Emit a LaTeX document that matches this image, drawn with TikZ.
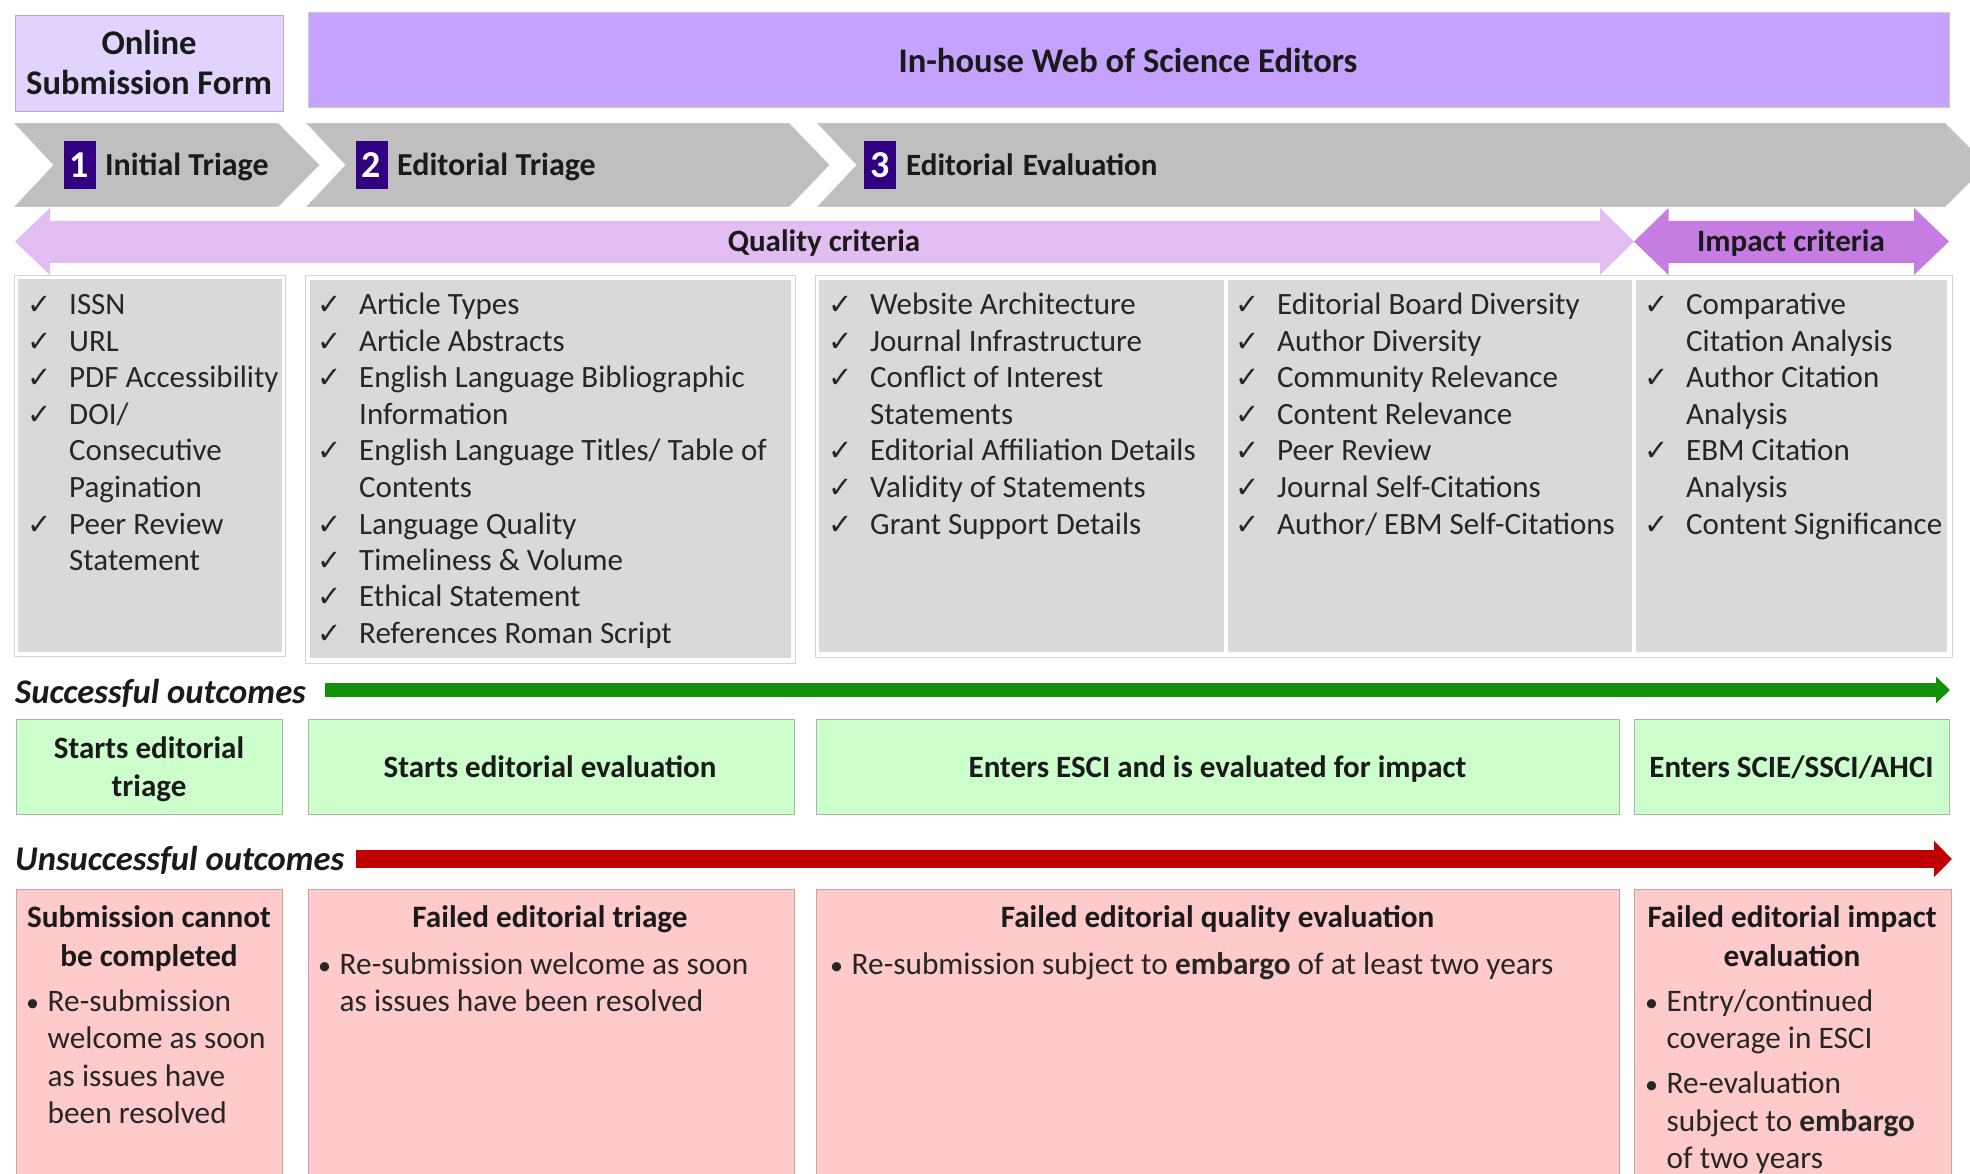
\documentclass[tikz,border=0pt]{standalone}
\usepackage{fontspec}
\usetikzlibrary{arrows.meta}
\setmainfont{Carlito}
\newfontfamily\ckfont{DejaVu Sans}
\definecolor{txt}{HTML}{1A1A1A}
\definecolor{listtxt}{HTML}{262626}
\definecolor{onlinefill}{HTML}{E1D3FE}
\definecolor{housefill}{HTML}{C4A2FD}
\definecolor{chevgray}{HTML}{BFBFBF}
\definecolor{badge}{RGB}{48,0,128}
\definecolor{qualfill}{HTML}{E1BDF2}
\definecolor{impfill}{HTML}{C57CE3}
\definecolor{panelgray}{HTML}{D9D9D9}
\definecolor{panelline}{HTML}{D4D4D4}
\definecolor{okfill}{HTML}{CCFFCC}
\definecolor{okline}{HTML}{A8B8A8}
\definecolor{badfill}{HTML}{FFCACA}
\definecolor{badline}{HTML}{BCA8A8}
\definecolor{greenarrow}{RGB}{20,145,10}
\definecolor{redarrow}{HTML}{C00000}
\newcommand{\ck}{{\ckfont\fontsize{29}{29}\selectfont ✓}}
\newcommand{\bul}{{\fontsize{26}{26}\selectfont\textbullet}}
\newcommand{\Lines}[2][c]{\begin{tabular}[t]{@{}#1@{}}#2\end{tabular}}
\newcommand{\Checks}[1]{\begin{tabular}[t]{@{}p{41.5pt}@{}l@{}}#1\end{tabular}}
\newcommand{\Bullets}[1]{\begin{tabular}[t]{@{}p{21.5pt}@{}l@{}}#1\end{tabular}}
\begin{document}
\begin{tikzpicture}[x=1pt,y=-1pt,
  box/.style={draw, line width=1pt, inner sep=0pt, anchor=north west},
  headtext/.style={font=\fontsize{34.6}{40}\selectfont\bfseries, text=txt, inner sep=0pt, anchor=base},
  chevtext/.style={font=\fontsize{32}{38}\selectfont\bfseries, text=txt, inner sep=0pt, anchor=base west},
  badgebox/.style={fill=badge, text=white, font=\fontsize{38}{40}\selectfont\bfseries, minimum width=32pt, minimum height=48pt, inner sep=0pt},
  crittext/.style={font=\fontsize{31}{36}\selectfont\bfseries, text=txt, inner sep=0pt, anchor=base},
  listtext/.style={font=\fontsize{31}{36.5}\selectfont, text=listtxt, inner sep=0pt, anchor=base west},
  outtext/.style={font=\fontsize{31}{38}\selectfont\bfseries, text=txt, inner sep=0pt, anchor=base},
  failtitle/.style={font=\fontsize{31.2}{39}\selectfont\bfseries, text=txt, inner sep=0pt, anchor=base},
  failtext/.style={font=\fontsize{31.3}{37.5}\selectfont, text=listtxt, inner sep=0pt, anchor=base west},
  rowlabel/.style={font=\fontsize{34.6}{40}\selectfont\bfseries\itshape, text=txt, inner sep=0pt, anchor=base west},
  okbox/.style={box, draw=okline, fill=okfill},
  badbox/.style={box, draw=badline, fill=badfill},
  outerpanel/.style={box, draw=panelline, fill=white},
  innerpanel/.style={inner sep=0pt, anchor=north west, fill=panelgray}
]
\useasboundingbox (0,0) rectangle (1970,1174);
\clip (0,0) rectangle (1970,1174);

% ---------- header boxes ----------
\node[box, draw=black!30, fill=onlinefill, minimum width=268pt, minimum height=96pt] (online) at (15,15) {};
\node[headtext] (onlinet) at (149,55) {\Lines{Online\\Submission Form}};
\node[box, draw=black!20, fill=housefill, minimum width=1641pt, minimum height=95pt] (house) at (308,12) {};
\node[headtext] (houset) at (1128,73) {In-house Web of Science Editors};

% ---------- chevrons ----------
\path[fill=chevgray, draw=black!22, line width=0.8pt] (15,123.5) -- (278,123.5) -- (319,165) -- (278,206.5) -- (15,206.5) -- (54,165) -- cycle;
\path[fill=chevgray, draw=black!22, line width=0.8pt] (307,123.5) -- (789,123.5) -- (829,165) -- (789,206.5) -- (307,206.5) -- (346,165) -- cycle;
\path[fill=chevgray, draw=black!22, line width=0.8pt] (818,123.5) -- (1945,123.5) -- (1986.5,165) -- (1945,206.5) -- (818,206.5) -- (857,165) -- cycle;
\node[badgebox] (b1) at (79.5,165.5) {1};
\node[chevtext] (c1) at (105,176) {Initial Triage};
\node[badgebox] (b2) at (371.5,165.5) {2};
\node[chevtext] (c2) at (397,176) {Editorial Triage};
\node[badgebox] (b3) at (880,165.5) {3};
\node[chevtext, font=\fontsize{31}{38}\selectfont\bfseries] (c3) at (906,176) {Editorial\hspace{9pt}Evaluation};

% ---------- criteria arrows ----------
\path[fill=qualfill] (15,241.5) -- (50,208) -- (50,221) -- (1600,221) -- (1600,208) -- (1634,241.5) -- (1600,275) -- (1600,263) -- (50,263) -- (50,275) -- cycle;
\path[fill=impfill] (1634,241.5) -- (1668.5,208) -- (1668.5,221) -- (1914,221) -- (1914,208) -- (1949,241.5) -- (1914,275) -- (1914,263) -- (1668.5,263) -- (1668.5,275) -- cycle;
\node[crittext] (qual) at (824,252) {Quality criteria};
\node[crittext] (imp) at (1791,252) {Impact criteria};

% ---------- criteria panels ----------
\node[outerpanel, minimum width=271pt, minimum height=381pt] (pA) at (14,275) {};
\node[innerpanel, minimum width=264pt, minimum height=373pt] (pAi) at (17.5,279) {};
\node[outerpanel, minimum width=490pt, minimum height=388pt] (pB) at (305,275) {};
\node[innerpanel, minimum width=481pt, minimum height=378pt] (pBi) at (309.5,279.5) {};
\node[outerpanel, minimum width=1137pt, minimum height=382pt] (pC) at (815,275) {};
\node[innerpanel, minimum width=405pt, minimum height=372pt] (pC1) at (819,280) {};
\node[innerpanel, minimum width=404pt, minimum height=372pt] (pC2) at (1228,280) {};
\node[innerpanel, minimum width=311pt, minimum height=372pt] (pC3) at (1636,280) {};

\node[listtext] (lA) at (27.5,315) {\Checks{%
\ck & ISSN\\
\ck & URL\\
\ck & PDF Accessibility\\
\ck & DOI/\\
 & Consecutive\\
 & Pagination\\
\ck & Peer Review\\
 & Statement}};
\node[listtext] (lB) at (317.5,315) {\Checks{%
\ck & Article Types\\
\ck & Article Abstracts\\
\ck & English Language Bibliographic\\
 & Information\\
\ck & English Language Titles/ Table of\\
 & Contents\\
\ck & Language Quality\\
\ck & Timeliness \& Volume\\
\ck & Ethical Statement\\
\ck & References Roman Script}};
\node[listtext] (lC1) at (828.5,315) {\Checks{%
\ck & Website Architecture\\
\ck & Journal Infrastructure\\
\ck & Conflict of Interest\\
 & Statements\\
\ck & Editorial Affiliation Details\\
\ck & Validity of Statements\\
\ck & Grant Support Details}};
\node[listtext] (lC2) at (1235.5,315) {\Checks{%
\ck & Editorial Board Diversity\\
\ck & Author Diversity\\
\ck & Community Relevance\\
\ck & Content Relevance\\
\ck & Peer Review\\
\ck & Journal Self-Citations\\
\ck & Author/ EBM Self-Citations}};
\node[listtext] (lC3) at (1644.5,315) {\Checks{%
\ck & Comparative\\
 & Citation Analysis\\
\ck & Author Citation\\
 & Analysis\\
\ck & EBM Citation\\
 & Analysis\\
\ck & Content Significance}};

% ---------- successful outcomes ----------
\node[rowlabel] (succ) at (15,703) {Successful outcomes};
\coordinate (gs) at (325,690);
\coordinate (ge) at (1950,690);
\draw[greenarrow, line width=14pt, -{Triangle[length=14pt,width=26pt]}] (gs) -- (ge);

\node[okbox, minimum width=266pt, minimum height=95pt] (ok1) at (16,719) {};
\node[okbox, minimum width=486pt, minimum height=95pt] (ok2) at (307.5,719) {};
\node[okbox, minimum width=803pt, minimum height=95pt] (ok3) at (816,719) {};
\node[okbox, minimum width=315pt, minimum height=95pt] (ok4) at (1634,719) {};
\node[outtext] (ok1t) at (149,758) {\Lines{Starts editorial\\triage}};
\node[outtext] (ok2t) at (550,777) {Starts editorial evaluation};
\node[outtext] (ok3t) at (1217.5,777) {Enters ESCI and is evaluated for impact};
\node[outtext] (ok4t) at (1791.5,777) {Enters SCIE/SSCI/AHCI};

% ---------- unsuccessful outcomes ----------
\node[rowlabel] (unsucc) at (15,870) {Unsuccessful outcomes};
\coordinate (rs) at (356,859);
\coordinate (re) at (1952,859);
\draw[redarrow, line width=18pt, -{Triangle[length=18pt,width=35pt]}] (rs) -- (re);

\node[badbox, minimum width=266pt, minimum height=310pt] (f1) at (16,889) {};
\node[badbox, minimum width=486pt, minimum height=310pt] (f2) at (307.5,889) {};
\node[badbox, minimum width=803pt, minimum height=310pt] (f3) at (816,889) {};
\node[badbox, minimum width=317pt, minimum height=310pt] (f4) at (1634,889) {};

\node[failtitle] (f1t) at (149,927) {\Lines{Submission cannot\\be completed}};
\node[failtext] (f1b) at (26,1011) {\Bullets{%
\bul & Re-submission\\
 & welcome as soon\\
 & as issues have\\
 & been resolved}};
\node[failtitle] (f2t) at (550,927) {Failed editorial triage};
\node[failtext] (f2b) at (318,974) {\Bullets{%
\bul & Re-submission welcome as soon\\
 & as issues have been resolved}};
\node[failtitle] (f3t) at (1217.5,927) {Failed editorial quality evaluation};
\node[failtext] (f3b) at (830,974) {\Bullets{%
\bul & Re-submission subject to \textbf{embargo} of at least two years}};
\node[failtitle] (f4t) at (1792,927) {\Lines{Failed editorial impact\\evaluation}};
\node[failtext] (f4b) at (1645,1011) {\Bullets{%
\bul & Entry/continued\\
 & coverage in ESCI\\[7.5pt]
\bul & Re-evaluation\\
 & subject to \textbf{embargo}\\
 & of two years}};
\end{tikzpicture}
\end{document}
